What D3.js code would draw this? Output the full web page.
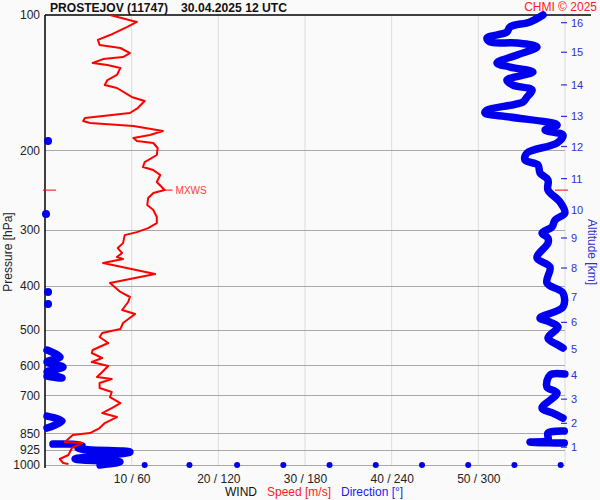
<!DOCTYPE html>
<html><head><meta charset="utf-8">
<script src="https://cdn.jsdelivr.net/npm/d3@7"></script>
<style>
html,body{margin:0;padding:0;background:#fafafa;}
svg{display:block;font-family:"Liberation Sans",Arial,sans-serif;}
</style></head>
<body><svg id="c" width="600" height="500"></svg>
<script>
// ---- data ----
const pressureTicks = [100,200,300,400,500,600,700,850,925,1000];
const speedTicks = [10,20,30,40,50];
const dirTicks = [60,120,180,240,300];
const gridSpeeds = [10,20,30,40,50,60];
const altKm = [1,2,3,4,5,6,7,8,9,10,11,12,13,14,15,16];
const altPressure = [913,808,714,631,552,482,423,365,313,271,231,196,168,143,121,104];

const speedP = [100,103.6,106.3,110.8,113.6,116.6,118.4,121.5,124.0,125.3,127.8,129.2,131.1,135.9,139.5,143.1,145.3,152.1,155.3,161.0,
 165.1,169.4,172.0,173.8,176.5,181.1,184.8,187.7,190.5,192.5,197.5,204.7,212.2,217.7,221.1,226.7,235.0,244.8,248.6,255.0,
 264.4,271.3,281.2,290.0,297.5,303.7,308.4,321.3,329.6,338.1,345.1,348.6,355.8,376.4,394.1,412.6,423.3,434.3,452.4,461.8,
 483.6,498.7,509.0,519.5,535.6,555.2,563.8,578.4,590.4,602.6,621.4,637.5,644.1,657.4,674.5,688.4,706.3,728.3,747.2,766.6,
 782.5,807.0,827.8,849.2,857.9,889.2,893.8,916.8,950.1,969.8,989.9,994.9];
const speedV = [7.5,10.6,9.5,7.5,6.1,6.3,8.7,9.8,9.0,6.7,5.5,7.2,8.7,8.3,7.2,6.9,8.3,10.0,11.5,10.7,
 9.8,4.6,4.4,5.2,10.2,13.6,12.1,10.2,10.6,12.5,13.0,12.9,11.5,11.3,12.5,13.3,12.9,13.8,12.5,11.9,
 11.8,12.5,12.9,12.9,11.9,10.6,9.2,9.0,8.4,8.9,8.3,9.0,6.7,12.7,7.5,8.7,9.8,9.6,8.9,10.4,
 9.0,8.7,6.6,6.3,7.3,5.5,5.4,6.6,5.4,7.3,6.6,6.0,7.7,6.3,6.3,7.7,7.5,8.7,7.7,6.6,
 8.3,6.9,6.3,5.2,3.2,2.3,4.3,3.1,2.7,1.7,2.1,2.7];

const dirP = [100,103.6,106.3,109.1,112.5,114.8,115.4,117.8,122.7,127.8,130.5,133.9,139.5,143.1,146.8,152.1,156.1,162.6,165.1,168.5,
 175.6,180.1,184.8,190.5,192.5,202.6,210.0,215.4,224.4,232.6,244.8,260.3,275.4,276.8,285.5,295.9,305.1,313.1,321.3,346.7,
 363.1,394.1,412.6,414.7,438.8,445.6,471.4,481.2,493.6,522.2,541.2,549.5,555.2,575.4,590.4,605.7,621.4,640.8,634.3,627.8,
 631.0,671.0,691.8,747.2,766.6,786.5,778.5,798.4,827.8,840.5,849.2,880.0,889.2,893.8,898.4,903.0,916.8,935.8,969.8,984.8,1000];
const dirV = [344.8,335.8,321.9,319.8,306.0,308.1,326.8,340.6,326.8,312.9,321.9,337.8,319.8,324.0,337.2,333.7,330.9,306.0,304.6,321.9,
 354.5,346.2,358.6,2.1,354.5,333.7,332.3,341.3,342.7,348.2,348.2,356.5,359.9,0.7,353.1,351.0,344.1,348.2,348.2,340.6,
 349.6,347.5,2.1,358.6,2.1,358.6,342.7,349.6,355.2,348.2,355.2,358.6,1.4,10.4,1.4,12.5,1.4,11.8,1.4,359.9,
 349.6,347.5,354.5,344.1,351.7,358.6,1.4,11.8,1.4,359.5,348.2,348.2,335.8,359.5,5.5,25.6,22.8,58.8,20.8,51.9,38.1];

const surfaceDirs = [69,100,133,165,197,229,261,293,325,357];
const mxwsP = 245, mxwsSpeed = 13.8;

// ---- chart ----
const svg = d3.select('#c');
const L = 45, R = 565, T = 15, B = 465;
const y = d3.scaleLog().domain([100,1000]).range([T,B]);
const xs = d3.scaleLinear().domain([0,60]).range([L,R]);
const xd = d3.scaleLinear().domain([0,360]).range([L,R]);

svg.append('rect').attr('width',600).attr('height',500).attr('fill','#fafafa');

// vertical grid
svg.append('g').selectAll('line').data(gridSpeeds).join('line')
  .attr('x1',d=>xs(d)).attr('x2',d=>xs(d)).attr('y1',T).attr('y2',B)
  .attr('stroke','#dcdcdc').attr('stroke-width',1);
// horizontal grid
svg.append('g').selectAll('line').data(pressureTicks.slice(1)).join('line')
  .attr('x1',L).attr('x2',R).attr('y1',d=>Math.round(y(d))+0.5).attr('y2',d=>Math.round(y(d))+0.5)
  .attr('stroke','#a8a8a8').attr('stroke-width',1);

// left axis (pressure)
const yAxis = d3.axisLeft(y).tickValues(pressureTicks).tickFormat(d3.format('d')).tickSize(0).tickPadding(5);
const ga = svg.append('g').attr('transform',`translate(${L},0)`).call(yAxis);
ga.select('.domain').remove();
ga.selectAll('text').attr('font-size',12).attr('fill','#222').attr('font-family','"Liberation Sans",Arial,sans-serif');
svg.append('line').attr('x1',L).attr('x2',L).attr('y1',T).attr('y2',B+3).attr('stroke','#000').attr('stroke-width',1.5);
svg.append('line').attr('x1',L).attr('x2',591).attr('y1',T).attr('y2',T).attr('stroke','#000').attr('stroke-width',1.5);
svg.append('text').attr('transform','translate(12,252) rotate(-90)').attr('text-anchor','middle')
  .attr('font-size',12).attr('fill','#222').text('Pressure [hPa]');

// bottom axis labels
const xAxis = d3.axisBottom(xs).tickValues(speedTicks).tickSize(0).tickPadding(9)
  .tickFormat((d,i)=> d + ' / ' + dirTicks[i]);
const gx = svg.append('g').attr('transform',`translate(0,${B})`).call(xAxis);
gx.select('.domain').remove();
gx.selectAll('text').attr('font-size',12).attr('fill','#222').attr('font-family','"Liberation Sans",Arial,sans-serif');
const lab = svg.append('text').attr('x',225).attr('y',496).attr('font-size',12);
lab.append('tspan').attr('fill','#111').text('WIND');
lab.append('tspan').attr('dx',10).attr('fill','#ff1a1a').text('Speed [m/s]');
lab.append('tspan').attr('dx',10).attr('fill','#1a1aff').text('Direction [°]');

// right altitude axis
const ar = svg.append('g');
ar.selectAll('line').data(altPressure).join('line')
  .attr('x1',561).attr('x2',567).attr('y1',d=>y(d)).attr('y2',d=>y(d)).attr('stroke','#3030d8').attr('stroke-width',1.2);
ar.selectAll('text').data(altKm).join('text')
  .attr('x',571).attr('y',(d,i)=>y(altPressure[i])+4).attr('font-size',11).attr('fill','#3030d8').text(d=>d);
svg.append('text').attr('transform','translate(588,252) rotate(90)').attr('text-anchor','middle')
  .attr('font-size',12).attr('fill','#3030d8').text('Altitude [km]');

// direction profile: split where it wraps around north
const dirPts = dirP.map((p,i)=>[dirV[i],p]);
let segs = []; let cur = [dirPts[0]];
for (let i=1;i<dirPts.length;i++){
  if (Math.abs(dirPts[i][0]-dirPts[i-1][0])>180){ segs.push(cur); cur=[]; }
  cur.push(dirPts[i]);
}
segs.push(cur);
// single wrapped points: keep them as dots and let the neighbouring runs join
const singles = [];
const merged = [];
for (let k=0;k<segs.length;k++){
  const s = segs[k];
  if (s.length===1 && k>0 && k<segs.length-1 && merged.length){
    singles.push(s[0]);
    const prev = merged[merged.length-1], next = segs[k+1];
    if (Math.abs(prev[prev.length-1][0]-next[0][0])<180){ segs[k+1] = prev.concat(next); merged.pop(); }
  } else if (s.length===1) singles.push(s[0]);
  else merged.push(s);
}
const dline = d3.line().x(d=>xd(d[0])).y(d=>y(d[1])).curve(d3.curveCatmullRom.alpha(0.5));
const gd = svg.append('g');
merged.forEach(s=>{
  gd.append('path').attr('d',dline(s)).attr('fill','none').attr('stroke','#0000ee')
    .attr('stroke-width',7.5).attr('stroke-linejoin','round').attr('stroke-linecap','round');
});
gd.selectAll('circle.single').data(singles).join('circle')
  .attr('cx',d=>xd(d[0])).attr('cy',d=>y(d[1])).attr('r',4).attr('fill','#0000ee');
gd.selectAll('circle.sfc').data(surfaceDirs).join('circle')
  .attr('cx',d=>xd(d)).attr('cy',y(1000)).attr('r',3).attr('fill','#0000ee');

// speed profile
const sline = d3.line().x(d=>xs(d[0])).y(d=>y(d[1]));
svg.append('path').attr('d',sline(speedP.map((p,i)=>[speedV[i],p]))).attr('fill','none')
  .attr('stroke','#ff0000').attr('stroke-width',2).attr('stroke-linejoin','round');

// MXWS
const ym = y(mxwsP);
svg.append('line').attr('x1',L-2).attr('x2',L+11).attr('y1',ym).attr('y2',ym).attr('stroke','#ff0000').attr('stroke-width',1);
svg.append('line').attr('x1',R-10).attr('x2',R+3).attr('y1',ym).attr('y2',ym).attr('stroke','#ff0000').attr('stroke-width',1);
svg.append('line').attr('x1',xs(mxwsSpeed)).attr('x2',xs(mxwsSpeed)+8).attr('y1',ym).attr('y2',ym).attr('stroke','#ff0000').attr('stroke-width',1);
svg.append('text').attr('x',xs(mxwsSpeed)+11).attr('y',ym+4).attr('font-size',10).attr('fill','#ff4040').text('MXWS');

// titles
svg.append('text').attr('x',50).attr('y',12).attr('font-size',13.5).attr('font-weight','bold').attr('fill','#111')
  .attr('textLength',118).attr('lengthAdjust','spacingAndGlyphs').text('PROSTEJOV (11747)');
svg.append('text').attr('x',181).attr('y',12).attr('font-size',13.5).attr('font-weight','bold').attr('fill','#111')
  .attr('textLength',106).attr('lengthAdjust','spacingAndGlyphs').text('30.04.2025 12 UTC');
svg.append('text').attr('x',597).attr('y',11).attr('text-anchor','end').attr('font-size',12).attr('fill','#ff2020').text('CHMI © 2025');
</script></body></html>
